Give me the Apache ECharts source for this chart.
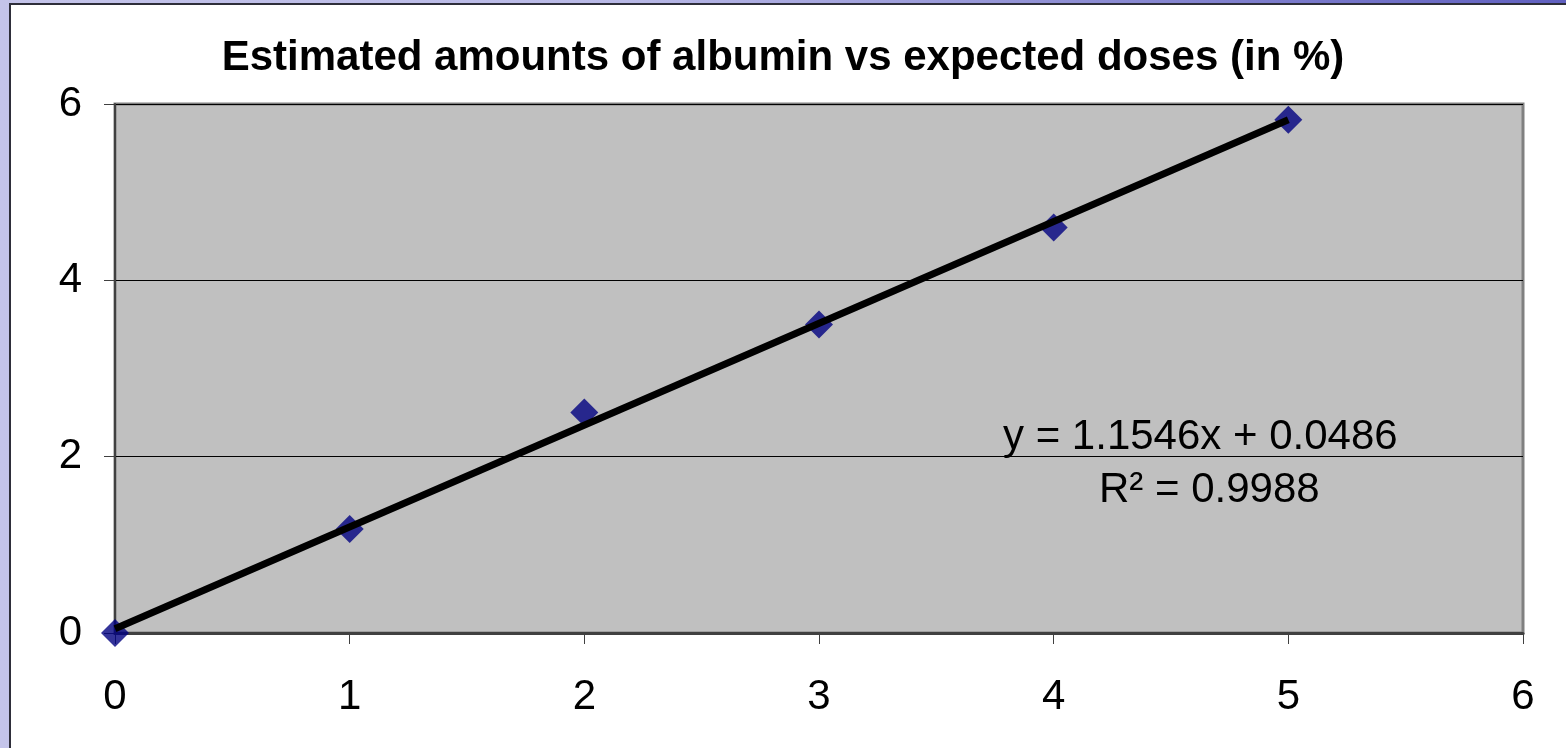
<!DOCTYPE html>
<html>
<head>
<meta charset="utf-8">
<script src="https://cdn.jsdelivr.net/npm/echarts@6/dist/echarts.min.js"></script>
<style>
  html, body { margin: 0; padding: 0; width: 1566px; height: 748px; overflow: hidden;
    background: linear-gradient(to right, #c4c4ea 0%, #b8b8e6 40%, #6060c0 100%); }
  #frame { position: absolute; left: 9px; top: 3px; width: 1600px; height: 800px;
    background: #ffffff; border-left: 2px solid #2e2e3a; border-top: 2px solid #2e2e3a; }
  #chart { position: absolute; left: 0; top: 0; width: 1566px; height: 748px; }
</style>
</head>
<body>
<div id="frame"></div>
<div id="chart"></div>
<script>
const titleText = 'Estimated amounts of albumin vs expected doses (in %)';
const xValues = [0, 1, 2, 3, 4, 5];
const yValues = [0, 1.18, 2.5, 3.5, 4.6, 5.82];
const trendX = [0, 5];
const trendY = [0.0486, 5.8216];
const equationLine = 'y = 1.1546x + 0.0486';
const rSquaredLine = 'R² = 0.9988';

const chart = echarts.init(document.getElementById('chart'), null, { renderer: 'canvas' });
const font = 'Liberation Sans, Arial, sans-serif';
chart.setOption({
  backgroundColor: 'transparent',
  animation: false,
  title: {
    text: titleText, left: 'center', top: 32,
    textStyle: { fontFamily: font, fontSize: 42, fontWeight: 'bold', color: '#000' }
  },
  grid: {
    left: 115, right: 43, top: 104, bottom: 115, show: true,
    backgroundColor: '#c0c0c0', borderColor: '#808080', borderWidth: 3
  },
  xAxis: {
    type: 'value', min: 0, max: 6, interval: 1,
    axisLine: { show: true, onZero: false, lineStyle: { color: '#404040', width: 3 } },
    axisTick: { show: true, length: 11, lineStyle: { color: '#404040', width: 1 } },
    axisLabel: { fontFamily: font, fontSize: 42, color: '#000', margin: 43 },
    splitLine: { show: false }
  },
  yAxis: {
    type: 'value', min: 0, max: 6, interval: 2,
    axisLine: { show: true, onZero: false, lineStyle: { color: '#404040', width: 2 } },
    axisTick: { show: true, length: 11, lineStyle: { color: '#404040', width: 1 } },
    axisLabel: { fontFamily: font, fontSize: 42, color: '#000', margin: 33 },
    splitLine: { show: true, lineStyle: { color: '#000', width: 1 } }
  },
  series: [
    {
      type: 'scatter', z: 2,
      symbol: 'diamond', symbolSize: 28,
      itemStyle: { color: '#000080' },
      data: xValues.map((x, i) => [x, yValues[i]])
    },
    {
      type: 'line', z: 3, symbol: 'none', silent: true,
      lineStyle: { color: '#000', width: 7 },
      data: trendX.map((x, i) => [x, trendY[i]])
    }
  ],
  graphic: [
    { type: 'text', left: 1003, top: 416, z: 10,
      style: { text: equationLine, fontFamily: font, fontSize: 42, fill: '#000' } },
    { type: 'text', left: 1099, top: 469, z: 10,
      style: { text: rSquaredLine, fontFamily: font, fontSize: 42, fill: '#000' } }
  ]
});
</script>
</body>
</html>
